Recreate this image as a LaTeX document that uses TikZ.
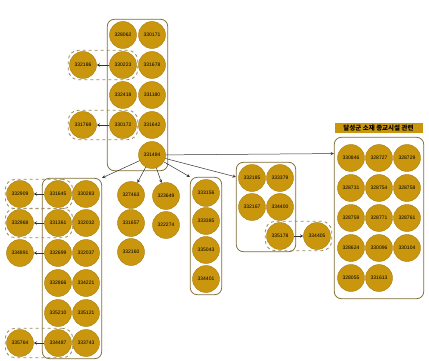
\documentclass[tikz,border=0pt]{standalone}
\usepackage{fontspec}
\setmainfont{Liberation Sans}
\newfontfamily\krfont{Noto Sans CJK KR}
\usepackage{xcolor}
\usepackage{tikz}
\usetikzlibrary{fit}

\definecolor{cgold}{RGB}{201,150,13}
\definecolor{cedge}{RGB}{168,124,12}
\definecolor{cbox}{RGB}{128,108,52}

\begin{document}
\begin{tikzpicture}[x=1pt,y=-1pt,
	case/.style={circle,fill=cgold,draw=cedge,line width=0.4pt,minimum size=27pt,inner sep=0pt,font=\fontsize{5}{5}\selectfont},
	group/.style={draw=cbox,line width=0.8pt,rounded corners=7pt,inner sep=2pt},
	pair/.style={draw=cbox!80,dashed,line width=0.8pt,rounded corners=10pt,inner sep=1pt},
	link/.style={draw=black!80,line width=0.5pt,-stealth}]

	\useasboundingbox (0,0) rectangle (429,361);

	\node[case] (n328062) at (123,35) {328062};
	\node[case] (n330171) at (152,35) {330171};
	\node[case] (n330223) at (123,65) {330223};
	\node[case] (n331678) at (152,65) {331678};
	\node[case] (n332418) at (123,95) {332418};
	\node[case] (n331180) at (152,95) {331180};
	\node[case] (n330172) at (123,125) {330172};
	\node[case] (n331642) at (152,125) {331642};
	\node[case] (hub) at (152,155) {331484};
	\node[case] (n332186) at (83,65) {332186};
	\node[case] (n331769) at (83,125) {331769};
	\node[group,fit=(n328062)(hub)] (grpA) {};
	\node[pair,fit=(n332186)(n330223)] {};
	\node[pair,fit=(n331769)(n330172)] {};
	\draw[link] (n330223) -- (n332186);
	\draw[link] (n330172) -- (n331769);

	\node[case] (n331645) at (58,194) {331645};
	\node[case] (n330283) at (86,194) {330283};
	\node[case] (n331361) at (58,223) {331361};
	\node[case] (n332032) at (86,223) {332032};
	\node[case] (n332699) at (58,253) {332699};
	\node[case] (n332037) at (86,253) {332037};
	\node[case] (n332866) at (58,283) {332866};
	\node[case] (n334221) at (86,283) {334221};
	\node[case] (n335210) at (58,313) {335210};
	\node[case] (n335121) at (86,313) {335121};
	\node[case] (n334487) at (58,343) {334487};
	\node[case] (n333743) at (86,343) {333743};
	\node[case] (n332909) at (20,194) {332909};
	\node[case] (n332968) at (20,223) {332968};
	\node[case] (n334891) at (20,253) {334891};
	\node[case] (n335764) at (20,343) {335764};
	\node[group,fit=(n331645)(n333743)] (grpB) {};
	\node[pair,fit=(n332909)(n331645)] {};
	\node[pair,fit=(n332968)(n331361)] {};
	\node[pair,fit=(n335764)(n334487)] {};
	\draw[link] (n331645) -- (n332909);
	\draw[link] (n331361) -- (n332968);
	\draw[link] (n332699) -- (n334891);
	\draw[link] (n334487) -- (n335764);

	\node[case] (n327463) at (131,195) {327463};
	\node[case] (n331657) at (131,223) {331657};
	\node[case] (n332160) at (131,252) {332160};
	\node[case] (n323649) at (166,196) {323649};
	\node[case] (n322274) at (166,225) {322274};

	\node[case] (n333156) at (206,193) {333156};
	\node[case] (n333385) at (206,221) {333385};
	\node[case] (n335043) at (206,250) {335043};
	\node[case] (n334401) at (206,279) {334401};
	\node[group,fit=(n333156)(n334401)] (grpC) {};

	\node[case] (n332185) at (252,178) {332185};
	\node[case] (n333379) at (280,178) {333379};
	\node[case] (n332167) at (252,207) {332167};
	\node[case] (n334400) at (280,207) {334400};
	\node[case] (n335178) at (280,236) {335178};
	\node[case] (n334405) at (317,236) {334405};
	\node[group,fit=(n332185)(n335178)] (grpD) {};
	\node[pair,fit=(n335178)(n334405)] {};
	\draw[link] (n335178) -- (n334405);

	\node[case] (n330846) at (351,158) {330846};
	\node[case] (n328727) at (379,158) {328727};
	\node[case] (n328729) at (407,158) {328729};
	\node[case] (n328731) at (351,188) {328731};
	\node[case] (n328754) at (379,188) {328754};
	\node[case] (n328758) at (407,188) {328758};
	\node[case] (n328759) at (351,218) {328759};
	\node[case] (n328771) at (379,218) {328771};
	\node[case] (n328761) at (407,218) {328761};
	\node[case] (n328624) at (351,248) {328624};
	\node[case] (n330096) at (379,248) {330096};
	\node[case] (n330104) at (407,248) {330104};
	\node[case] (n328055) at (351,278) {328055};
	\node[case] (n331613) at (379,278) {331613};
	\node[group,fit=(n330846)(n328729)(n328055),inner xsep=3pt,inner ysep=7pt] (grpE) {};
	\node[fill=cgold,minimum width=88pt,minimum height=10.5pt,inner sep=0pt,font=\krfont\bfseries\fontsize{6.5}{6.5}\selectfont] (title) at (378.5,128) {달성군 소재 종교시설 관련};

	\draw[link] (hub) -- (grpB.north east);
	\draw[link] (hub) -- (n327463);
	\draw[link] (hub) -- (n323649);
	\draw[link] (hub) -- (grpC.north west);
	\draw[link] (hub) -- (grpD.135);
	\draw[link] (hub) -- (grpE.125);

\end{tikzpicture}
\end{document}
